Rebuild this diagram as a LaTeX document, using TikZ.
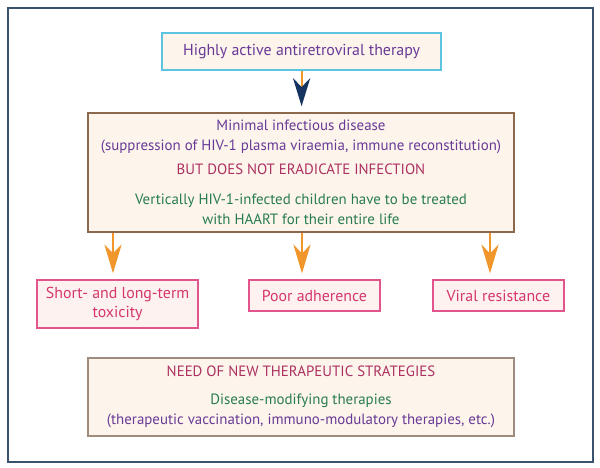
\documentclass[tikz,border=0pt]{standalone}
\usepackage{fontspec}
\setmainfont{PT Sans}
\usepackage{tikz}
\usetikzlibrary{arrows.meta,
           positioning}
\definecolor{cadre}{RGB}{58,82,110}
\definecolor{creme}{RGB}{253,244,236}
\definecolor{cyanb}{RGB}{92,196,226}
\definecolor{brun}{RGB}{140,104,76}
\definecolor{grisb}{RGB}{160,140,125}
\definecolor{roseb}{RGB}{226,84,140}
\definecolor{rosef}{RGB}{253,242,240}
\definecolor{rosetxt}{RGB}{214,54,110}
\definecolor{violet}{RGB}{104,58,150}
\definecolor{cramoisi}{RGB}{172,48,96}
\definecolor{vert}{RGB}{40,124,80}
\definecolor{orange}{RGB}{240,150,42}
\definecolor{marine}{RGB}{22,52,96}

\begin{document}
\begin{tikzpicture}[
  boite/.style={draw,line width=1pt,fill=creme,align=center,inner sep=0pt,
                font=\fontsize{10.6}{14.2}\selectfont},
  rose/.style={boite,draw=roseb,fill=rosef,text=rosetxt,font=\fontsize{11.3}{14}\selectfont},
  fleche/.style={orange,line width=1.5pt,shorten >=0.15cm,
                 -{Stealth[length=0.72cm,width=0.43cm,inset=0.22cm]}}]
\useasboundingbox(0,0)rectangle(15,-11.7);
\draw[cadre,line width=1pt](0.2,-0.2)rectangle(14.825,-11.55);
% therapie
\node[boite,draw=cyanb,minimum width=6.975cm,minimum height=0.925cm,text=violet,font=\fontsize{11.3}{14}\selectfont](haart)at(7.54,-1.29){Highly active antiretroviral therapy};
\node[boite,draw=brun,minimum width=10.65cm,minimum height=2.975cm](mid)at(7.525,-4.31){%
\textcolor{violet}{Minimal infectious disease}\\
\textcolor{violet}{(suppression of HIV-1 plasma viraemia, immune reconstitution)}\\[3pt]
\textcolor{cramoisi}{BUT DOES NOT ERADICATE INFECTION}\\[7.5pt]
\textcolor{vert}{Vertically HIV-1-infected children have to be treated}\\
\textcolor{vert}{with HAART for their entire life}};
% consequences
\node[rose,minimum width=4.025cm,minimum height=1.2cm](tox)at(2.94,-7.6){Short- and long-term\\toxicity};
\node[rose,minimum width=3.275cm,minimum height=0.775cm](adh)at(7.86,-7.39){Poor adherence};
\node[rose,minimum width=3.275cm,minimum height=0.775cm](res)at(12.46,-7.39){Viral resistance};
\node[boite,draw=grisb,minimum width=10.65cm,minimum height=1.95cm](need)at(7.525,-9.925){%
\textcolor{cramoisi}{NEED OF NEW THERAPEUTIC STRATEGIES}\\[6pt]
\textcolor{vert}{Disease-modifying therapies}\\
\textcolor{violet}{(therapeutic vaccination, immuno-modulatory therapies, etc.)}};
% fleches
\draw[fleche,-{Stealth[length=0.7cm,width=0.43cm,inset=0.22cm,color=marine]}](haart.south)--(haart.south|-mid.north);
\draw[fleche]([xshift=-4.7cm]mid.south)--([xshift=-4.7cm]mid.south|-tox.north);
\draw[fleche]([xshift=0.025cm]mid.south)--([xshift=0.025cm]mid.south|-adh.north);
\draw[fleche]([xshift=4.725cm]mid.south)--([xshift=4.725cm]mid.south|-res.north);
\end{tikzpicture}
\end{document}
